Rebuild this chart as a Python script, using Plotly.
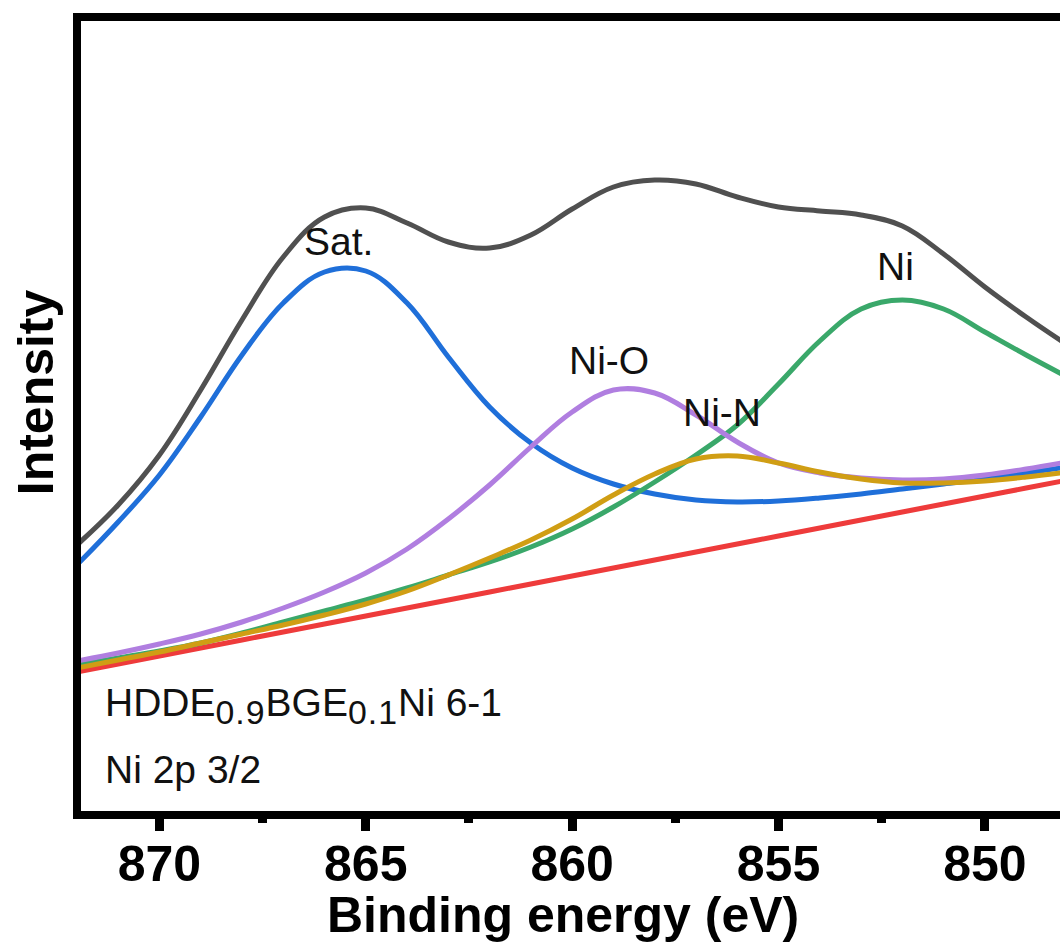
import plotly.graph_objects as go

# Ni 2p3/2 XPS spectrum with peak-fit components (arbitrary intensity units)
binding_energy = [872, 871, 870, 869, 868, 867, 866, 865, 864, 863, 862, 861, 860,
                  859, 858, 857, 856, 855, 854, 853, 852, 851, 850, 849, 848]

envelope = [270, 310, 360, 425, 495, 558, 598, 607, 592, 573, 567, 580, 606,
            628, 635, 631, 618, 608, 604, 600, 589, 561, 528, 498, 470]
satellite = [250, 293, 340, 398, 460, 512, 543, 544, 512, 458, 408, 372, 347,
             331, 321, 315, 313, 314, 317, 321, 326, 331, 336, 342, 348]
ni_o = [154, 162, 171, 181, 193, 207, 223, 242, 266, 296, 330, 368, 403,
        425, 422, 400, 373, 352, 342, 337, 335, 336, 340, 346, 353]
ni_metal = [150, 157, 164, 172, 182, 193, 204, 215, 227, 240, 253, 268, 286,
            308, 333, 360, 390, 431, 474, 506, 515, 506, 483, 460, 438]
ni_n = [147, 155, 163, 172, 181, 190, 200, 211, 224, 240, 257, 275, 296,
        320, 341, 356, 359, 352, 343, 336, 332, 332, 334, 338, 343]
background = [143, 151, 159, 167, 175, 183, 191, 199, 207, 215, 223, 231, 239,
              247, 255, 263, 271, 279, 287, 295, 303, 311, 319, 327, 335]

# peak labels: (text, binding energy, intensity)
peak_labels = [("Sat.", 865.67, 574), ("Ni-O", 859.11, 455),
               ("Ni-N", 856.37, 403), ("Ni", 852.16, 549)]

x_ticks = [870, 865, 860, 855, 850]

FONT = "Liberation Sans, Arial, sans-serif"

series = [
    ("Background", background, "#ee3b3b"),
    ("Sat.", satellite, "#1f6fd9"),
    ("Ni", ni_metal, "#3aa86a"),
    ("Ni-O", ni_o, "#b07ee0"),
    ("Ni-N", ni_n, "#d09e14"),
    ("Envelope", envelope, "#505050"),
]

fig = go.Figure()
for name, vals, color in series:
    fig.add_trace(go.Scatter(
        x=binding_energy, y=vals, mode="lines", name=name,
        line=dict(color=color, width=5, shape="spline", smoothing=1.1),
        showlegend=False, hoverinfo="x+y+name",
    ))

for text, xv, yv in peak_labels:
    fig.add_annotation(x=xv, y=yv, xref="x", yref="y", text=text,
                       showarrow=False, xanchor="center", yanchor="middle",
                       font=dict(family=FONT, size=39, color="#111111"))


def sub(s):
    return (f'<sub><span style="font-size:124%;letter-spacing:1px">'
            f'{s}</span></sub>')


fig.add_annotation(x=0.0225, y=0.133, xref="paper", yref="paper",
                   text=f"HDDE{sub('0.9')}BGE{sub('0.1')}Ni 6-1",
                   showarrow=False, xanchor="left", yanchor="middle",
                   font=dict(family=FONT, size=39, color="#111111"))
fig.add_annotation(x=0.0225, y=0.052, xref="paper", yref="paper",
                   text="Ni 2p 3/2", showarrow=False,
                   xanchor="left", yanchor="middle",
                   font=dict(family=FONT, size=39, color="#111111"))

fig.add_annotation(x=-0.046, y=0.53, xref="paper", yref="paper",
                   text="<b>Intensity</b>", textangle=-90, showarrow=False,
                   xanchor="center", yanchor="middle",
                   font=dict(family=FONT, size=50, color="black"))
fig.add_annotation(x=0.4923, y=-0.1316, xref="paper", yref="paper",
                   text="<b>Binding energy (eV)</b>", showarrow=False,
                   xanchor="center", yanchor="middle",
                   font=dict(family=FONT, size=50, color="black"))

fig.update_xaxes(
    range=[871.9, 848.18], tickvals=x_ticks,
    ticktext=[f"<b>{v}</b>" for v in x_ticks],
    showline=True, linewidth=8, linecolor="black", mirror=True,
    ticks="outside", ticklen=12, tickwidth=9, tickcolor="black",
    ticklabelstandoff=-10,
    minor=dict(dtick=2.5, tick0=870, ticks="outside", ticklen=4,
               tickwidth=9, tickcolor="black"),
    showgrid=False, zeroline=False,
    tickfont=dict(family=FONT, size=50, color="black"),
)
fig.update_yaxes(
    range=[4, 794], showline=True, linewidth=8, linecolor="black",
    mirror=False, ticks="", showticklabels=False,
    showgrid=False, zeroline=False,
)

fig.update_layout(
    width=1060, height=951,
    margin=dict(l=81, r=0, t=21, b=140),
    plot_bgcolor="white", paper_bgcolor="white",
)

fig.write_html("out.html")
